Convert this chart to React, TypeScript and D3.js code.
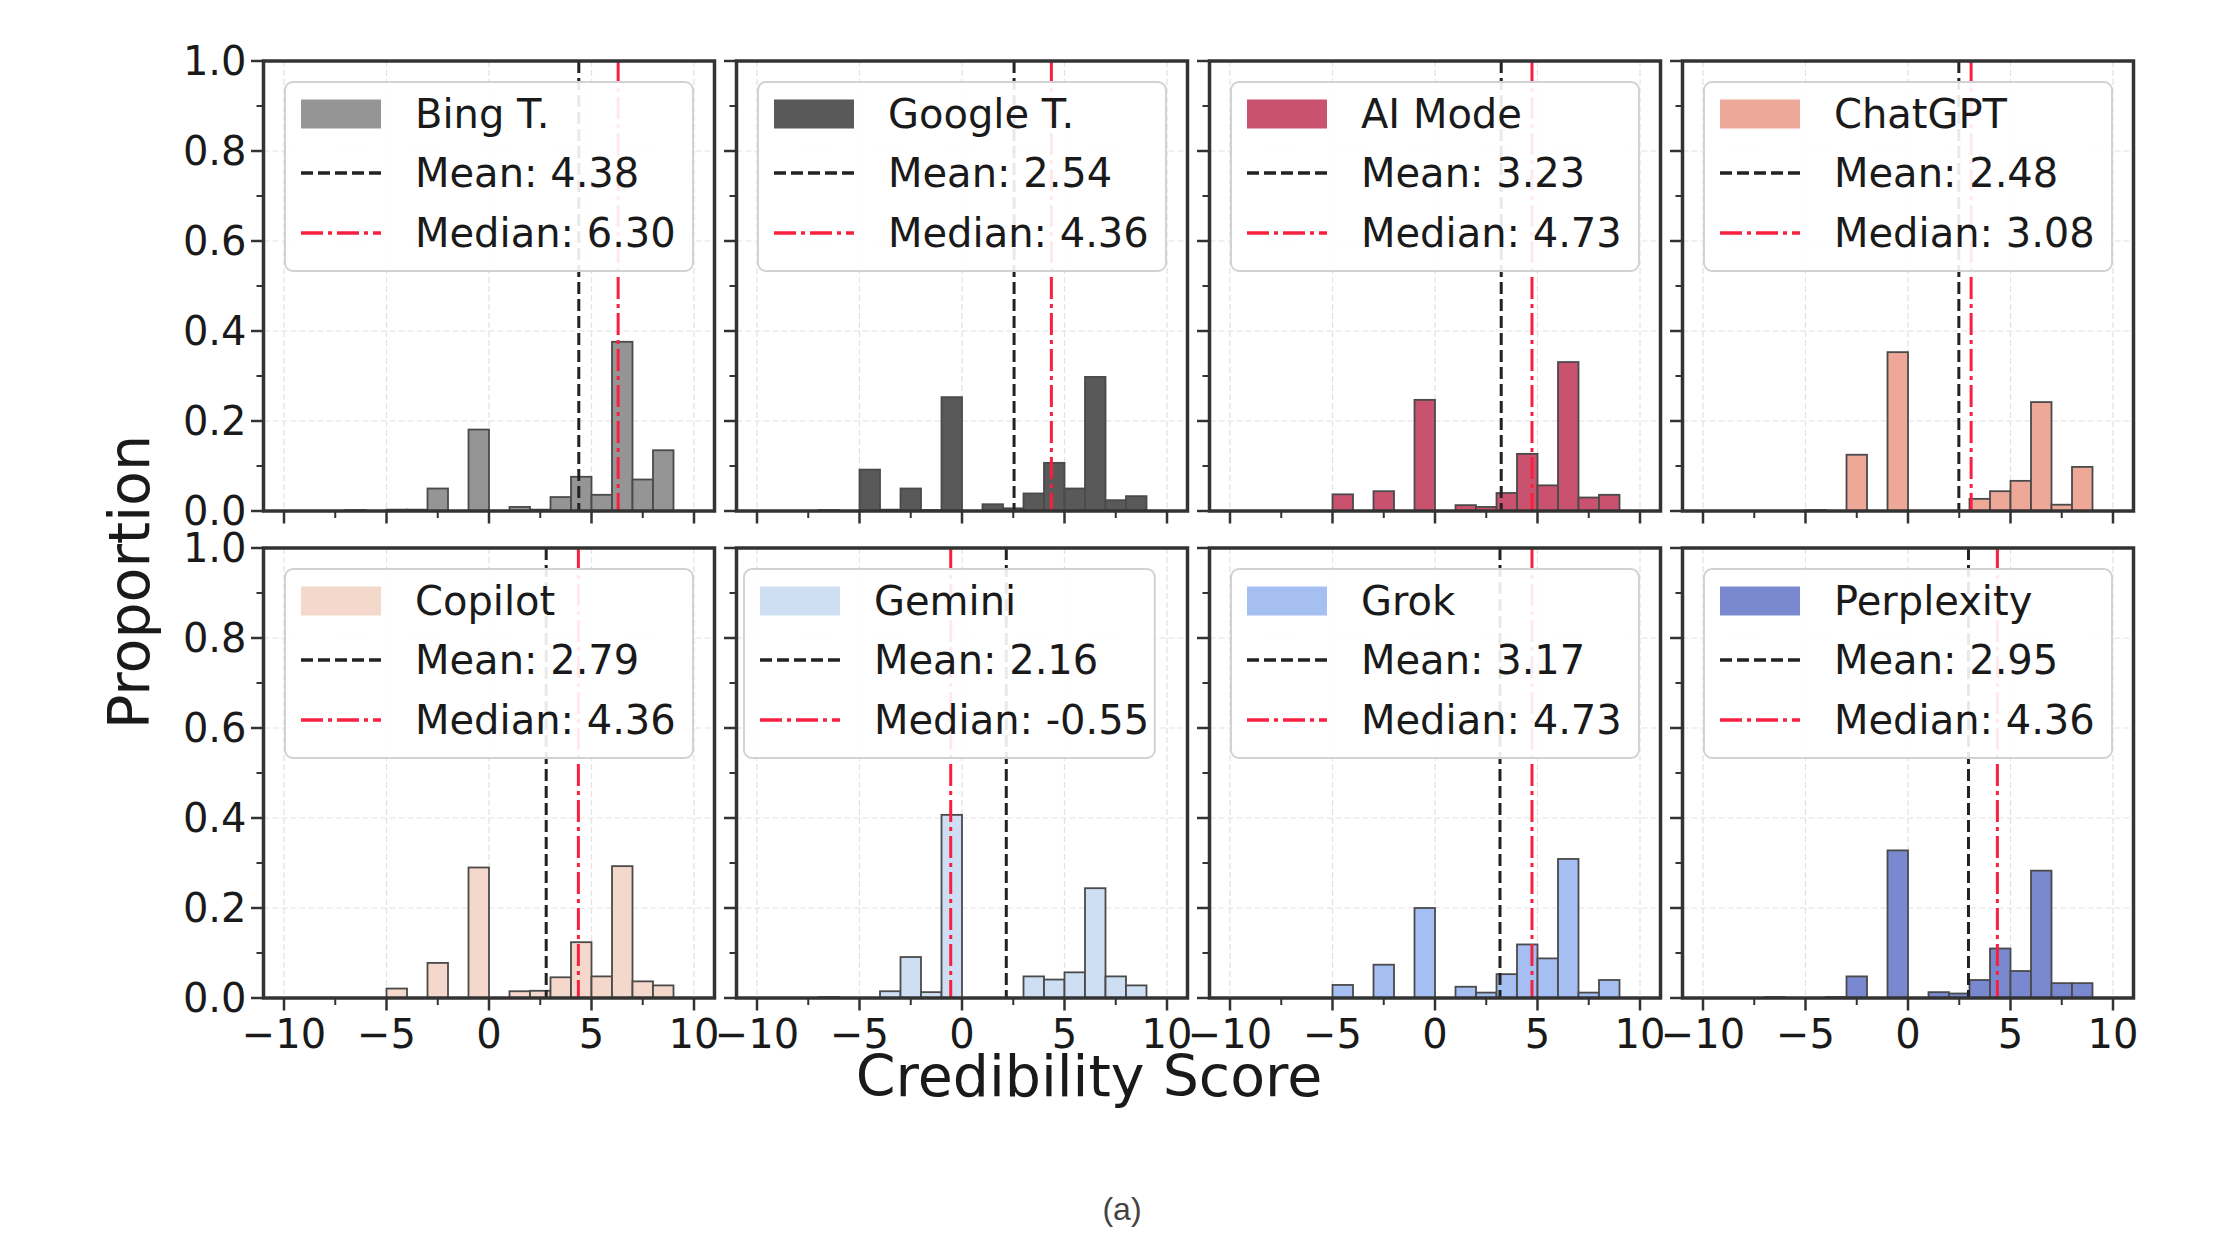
import * as d3 from 'd3';

// histogram bins: unit-width bins from -10 to 10
const binStart = -10;
const binEnd = 10;
const binStep = 1;

const models = ['Bing T.', 'Google T.', 'AI Mode', 'ChatGPT', 'Copilot', 'Gemini', 'Grok', 'Perplexity'];
const colors = ['#959595', '#595959', '#c9536f', '#eda898', '#f5d8cc', '#cfdff3', '#a5bff2', '#7a89cf'];

// proportion per bin, bins [-10,-9] ... [9,10]
const bing = [0, 0, 0, 0.002, 0, 0.003, 0.003, 0.05, 0, 0.181, 0, 0.009, 0.003, 0.031, 0.076, 0.036, 0.376, 0.07, 0.135, 0];
const google = [0, 0, 0, 0.002, 0, 0.092, 0.003, 0.05, 0.002, 0.253, 0, 0.015, 0.006, 0.039, 0.107, 0.05, 0.298, 0.024, 0.033, 0];
const aiMode = [0, 0, 0, 0, 0, 0.037, 0, 0.044, 0, 0.247, 0, 0.013, 0.009, 0.04, 0.127, 0.057, 0.331, 0.03, 0.036, 0];
const chatgpt = [0, 0, 0, 0, 0, 0.002, 0, 0.125, 0, 0.353, 0, 0, 0, 0.027, 0.044, 0.067, 0.242, 0.014, 0.098, 0];
const copilot = [0, 0, 0, 0, 0, 0.021, 0, 0.078, 0, 0.29, 0, 0.015, 0.016, 0.046, 0.124, 0.048, 0.293, 0.037, 0.028, 0];
const gemini = [0, 0, 0, 0.002, 0, 0, 0.015, 0.091, 0.013, 0.407, 0, 0, 0, 0.048, 0.041, 0.057, 0.244, 0.048, 0.028, 0];
const grok = [0, 0, 0, 0, 0, 0.029, 0, 0.074, 0, 0.2, 0, 0.025, 0.012, 0.053, 0.119, 0.088, 0.309, 0.012, 0.04, 0];
const perplexity = [0, 0, 0, 0.002, 0, 0, 0.002, 0.048, 0, 0.328, 0, 0.013, 0.01, 0.04, 0.11, 0.06, 0.283, 0.033, 0.033, 0];
const proportions = [bing, google, aiMode, chatgpt, copilot, gemini, grok, perplexity];

const means = [4.38, 2.54, 3.23, 2.48, 2.79, 2.16, 3.17, 2.95];
const medians = [6.3, 4.36, 4.73, 3.08, 4.36, -0.55, 4.73, 4.36];

const xTicks = [-10, -5, 0, 5, 10];
const xMinor = [-7.5, -2.5, 2.5, 7.5];
const yTicks = [0, 0.2, 0.4, 0.6, 0.8, 1.0];
const yMinor = [0.1, 0.3, 0.5, 0.7, 0.9];

const W = 2240;
const H = 1260;
const panelW = 451;
const panelH = 450;
const left0 = 263.5;
const top0 = 61;
const colStep = 473;
const rowStep = 487;

const font = 'DejaVu Sans';
const fs = 40;
const ink = '#333';
const textInk = '#1a1a1a';
const meanColor = '#222';
const medianColor = '#f8203f';

const x = d3.scaleLinear().domain([-11, 11]).range([0, panelW]);
const y = d3.scaleLinear().domain([0, 1]).range([panelH, 0]);
const edges = d3.range(binStart, binEnd + binStep / 2, binStep);
const fmtX = d3.format('d');
const fmtY = d3.format('.1f');

function Panel({ i }: { i: number }) {
  const col = i % 4;
  const row = Math.floor(i / 4);
  const tx = left0 + col * colStep;
  const ty = top0 + row * rowStep;
  const values = proportions[i];

  const labels = [models[i], `Mean: ${means[i].toFixed(2)}`, `Median: ${medians[i].toFixed(2)}`];
  const extra = Math.max(0, d3.max(labels.slice(1), (s) => s.length)! - 12) * 14;
  const lw = 408 + extra * 0.2;
  const lx = panelW / 2 - 204 - extra;
  const ly = 21;
  const rows = [32, 91, 151];

  return (
    <g transform={`translate(${tx},${ty})`}>
      {/* grid */}
      {xTicks.map((t) => (
        <line key={'gx' + t} x1={x(t)} x2={x(t)} y1={0} y2={panelH} stroke="#e2e2e2" strokeWidth={1.2} strokeDasharray="6 3" />
      ))}
      {yTicks.slice(1, -1).map((t) => (
        <line key={'gy' + t} x1={0} x2={panelW} y1={y(t)} y2={y(t)} stroke="#e2e2e2" strokeWidth={1.2} strokeDasharray="6 3" />
      ))}

      {/* bars */}
      {values.map((v, k) => (
        <rect
          key={'b' + k}
          x={x(edges[k])}
          width={x(edges[k + 1]) - x(edges[k])}
          y={y(v)}
          height={y(0) - y(v)}
          fill={colors[i]}
          stroke="#4a4a4a"
          strokeWidth={1.8}
        />
      ))}

      {/* mean / median */}
      <line x1={x(means[i])} x2={x(means[i])} y1={0} y2={panelH} stroke={meanColor} strokeWidth={3} strokeDasharray="12 5" />
      <line x1={x(medians[i])} x2={x(medians[i])} y1={0} y2={panelH} stroke={medianColor} strokeWidth={3} strokeDasharray="22 5 4 5" />

      {/* legend */}
      <g transform={`translate(${lx},${ly})`}>
        <rect width={lw} height={189} rx={8} fill="#fff" fillOpacity={0.9} stroke="#d2d2d2" strokeWidth={2} />
        <rect x={16} y={rows[0] - 14.5} width={80} height={29} fill={colors[i]} />
        <line x1={16} x2={96} y1={rows[1]} y2={rows[1]} stroke={meanColor} strokeWidth={3.5} strokeDasharray="12 5" />
        <line x1={16} x2={96} y1={rows[2]} y2={rows[2]} stroke={medianColor} strokeWidth={3.5} strokeDasharray="22 5 4 5" />
        {labels.map((s, r) => (
          <text key={s} x={130} y={rows[r] + fs * 0.36} fontFamily={font} fontSize={fs} fill={textInk}>
            {s}
          </text>
        ))}
      </g>

      {/* frame */}
      <rect width={panelW} height={panelH} fill="none" stroke={ink} strokeWidth={3.5} />

      {/* ticks */}
      {xTicks.map((t) => (
        <line key={'tx' + t} x1={x(t)} x2={x(t)} y1={panelH} y2={panelH + 12.5} stroke={ink} strokeWidth={2.5} />
      ))}
      {xMinor.map((t) => (
        <line key={'mx' + t} x1={x(t)} x2={x(t)} y1={panelH} y2={panelH + 7} stroke={ink} strokeWidth={2} />
      ))}
      {yTicks.map((t) => (
        <line key={'ty' + t} x1={-12.5} x2={0} y1={y(t)} y2={y(t)} stroke={ink} strokeWidth={2.5} />
      ))}
      {yMinor.map((t) => (
        <line key={'my' + t} x1={-7} x2={0} y1={y(t)} y2={y(t)} stroke={ink} strokeWidth={2} />
      ))}

      {row === 1 &&
        xTicks.map((t) => (
          <text key={'lx' + t} x={x(t)} y={panelH + 50} textAnchor="middle" fontFamily={font} fontSize={fs} fill={textInk}>
            {fmtX(t)}
          </text>
        ))}
      {col === 0 &&
        yTicks.map((t) => (
          <text key={'ly' + t} x={-17} y={y(t) + fs * 0.36} textAnchor="end" fontFamily={font} fontSize={fs} fill={textInk}>
            {fmtY(t)}
          </text>
        ))}
    </g>
  );
}

export default function App() {
  return (
    <svg width={W} height={H} style={{ position: 'absolute', left: 0, top: 0, background: '#fff' }}>
      <rect width={W} height={H} fill="#fff" />
      {models.map((m, i) => (
        <Panel key={m} i={i} />
      ))}
      <text x={1089} y={1096} textAnchor="middle" fontFamily={font} fontSize={57} fill={textInk}>
        Credibility Score
      </text>
      <text transform="translate(149,582) rotate(-90)" textAnchor="middle" fontFamily={font} fontSize={57} fill={textInk}>
        Proportion
      </text>
      <text x={1122} y={1220} textAnchor="middle" fontFamily="'Liberation Sans Narrow', 'Liberation Sans'" fontSize={32} fill="#444">
        (a)
      </text>
    </svg>
  );
}
